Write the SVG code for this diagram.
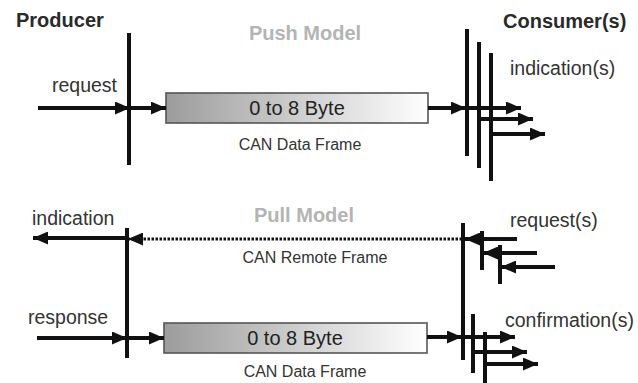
<svg xmlns="http://www.w3.org/2000/svg" width="638" height="383" viewBox="0 0 638 383">
<style>
text{font-family:"Liberation Sans",Arial,sans-serif;fill:#2a2a2a}
.h{font-weight:bold;font-size:20px}
.m{font-weight:bold;font-size:20px;fill:#b4b4b4;text-anchor:middle}
.l{font-size:19.5px;fill:#333}
.s{font-size:16px;fill:#333;text-anchor:middle}
.b{font-size:20px;fill:#222;text-anchor:middle}
.v{stroke:#111;stroke-width:4;fill:none}
.a{stroke:#111;stroke-width:4;fill:none;marker-end:url(#ah)}
.d{stroke:#111;stroke-width:3;stroke-dasharray:2.5 1.5;fill:none;marker-end:url(#ah)}
.box{fill:url(#g);stroke:#555;stroke-width:1.6}
</style>
<defs>
<linearGradient id="g" x1="0" y1="0" x2="1" y2="0">
<stop offset="0" stop-color="#9c9c9c"/>
<stop offset="1" stop-color="#ffffff"/>
</linearGradient>
<marker id="ah" markerUnits="userSpaceOnUse" markerWidth="16" markerHeight="13" refX="15" refY="6.5" orient="auto">
<path d="M0,0 L15,6.5 L0,13 Z" fill="#111"/>
</marker>
</defs>
<text class="h" x="16" y="27">Producer</text>
<text class="h" x="503" y="28">Consumer(s)</text>
<text class="m" x="305" y="40">Push Model</text>
<text class="m" x="304" y="222">Pull Model</text>
<g id="push-frame">
<rect class="box" x="166" y="93" width="262" height="30"/>
<text class="b" x="297" y="115">0 to 8 Byte</text>
<text class="s" x="300" y="150">CAN Data Frame</text>
</g>
<g id="pull-remote">
<text class="s" x="315" y="263">CAN Remote Frame</text>
</g>
<g id="pull-frame">
<rect class="box" x="164" y="323" width="263" height="30"/>
<text class="b" x="295" y="345">0 to 8 Byte</text>
<text class="s" x="305" y="377">CAN Data Frame</text>
</g>
<g id="producer-push">
<line class="v" x1="129" y1="33" x2="129" y2="165"/>
<text class="l" x="52" y="92">request</text>
</g>
<g id="consumers-push">
<line class="v" x1="467" y1="29" x2="467" y2="156"/>
<line class="v" x1="479" y1="42" x2="479" y2="168"/>
<line class="v" x1="491" y1="53" x2="491" y2="181"/>
<text class="l" x="510" y="75">indication(s)</text>
</g>
<g id="producer-pull">
<line class="v" x1="127" y1="228" x2="127" y2="358"/>
<text class="l" x="32" y="225">indication</text>
<text class="l" x="28" y="324">response</text>
</g>
<g id="consumers-pull">
<line class="v" x1="463" y1="223" x2="463" y2="360"/>
<line class="v" x1="482" y1="231" x2="482" y2="270"/>
<line class="v" x1="500" y1="245" x2="500" y2="284"/>
<line class="v" x1="473" y1="314" x2="473" y2="373"/>
<line class="v" x1="485" y1="332" x2="485" y2="383"/>
<text class="l" x="510" y="227">request(s)</text>
<text class="l" x="505" y="327">confirmation(s)</text>
</g>
<g id="connectors">
<line class="a" x1="38" y1="108" x2="130" y2="108"/>
<line class="a" x1="129" y1="108" x2="166" y2="108"/>
<line class="a" x1="428" y1="108" x2="466" y2="108"/>
<line class="a" x1="467" y1="108" x2="521" y2="108"/>
<line class="a" x1="479" y1="119" x2="533" y2="119"/>
<line class="a" x1="491" y1="134" x2="545" y2="134"/>
<line class="a" x1="127" y1="238" x2="33" y2="238"/>
<line class="d" x1="462" y1="239" x2="128" y2="239"/>
<line class="a" x1="517" y1="239" x2="465" y2="239"/>
<line class="a" x1="537" y1="253" x2="483" y2="253"/>
<line class="a" x1="555" y1="267" x2="501" y2="267"/>
<line class="a" x1="37" y1="338" x2="127" y2="338"/>
<line class="a" x1="127" y1="338" x2="164" y2="338"/>
<line class="a" x1="427" y1="337" x2="462" y2="337"/>
<line class="a" x1="463" y1="337" x2="515" y2="337"/>
<line class="a" x1="473" y1="352" x2="527" y2="352"/>
<line class="a" x1="485" y1="364" x2="538" y2="364"/>
</g>
</svg>
